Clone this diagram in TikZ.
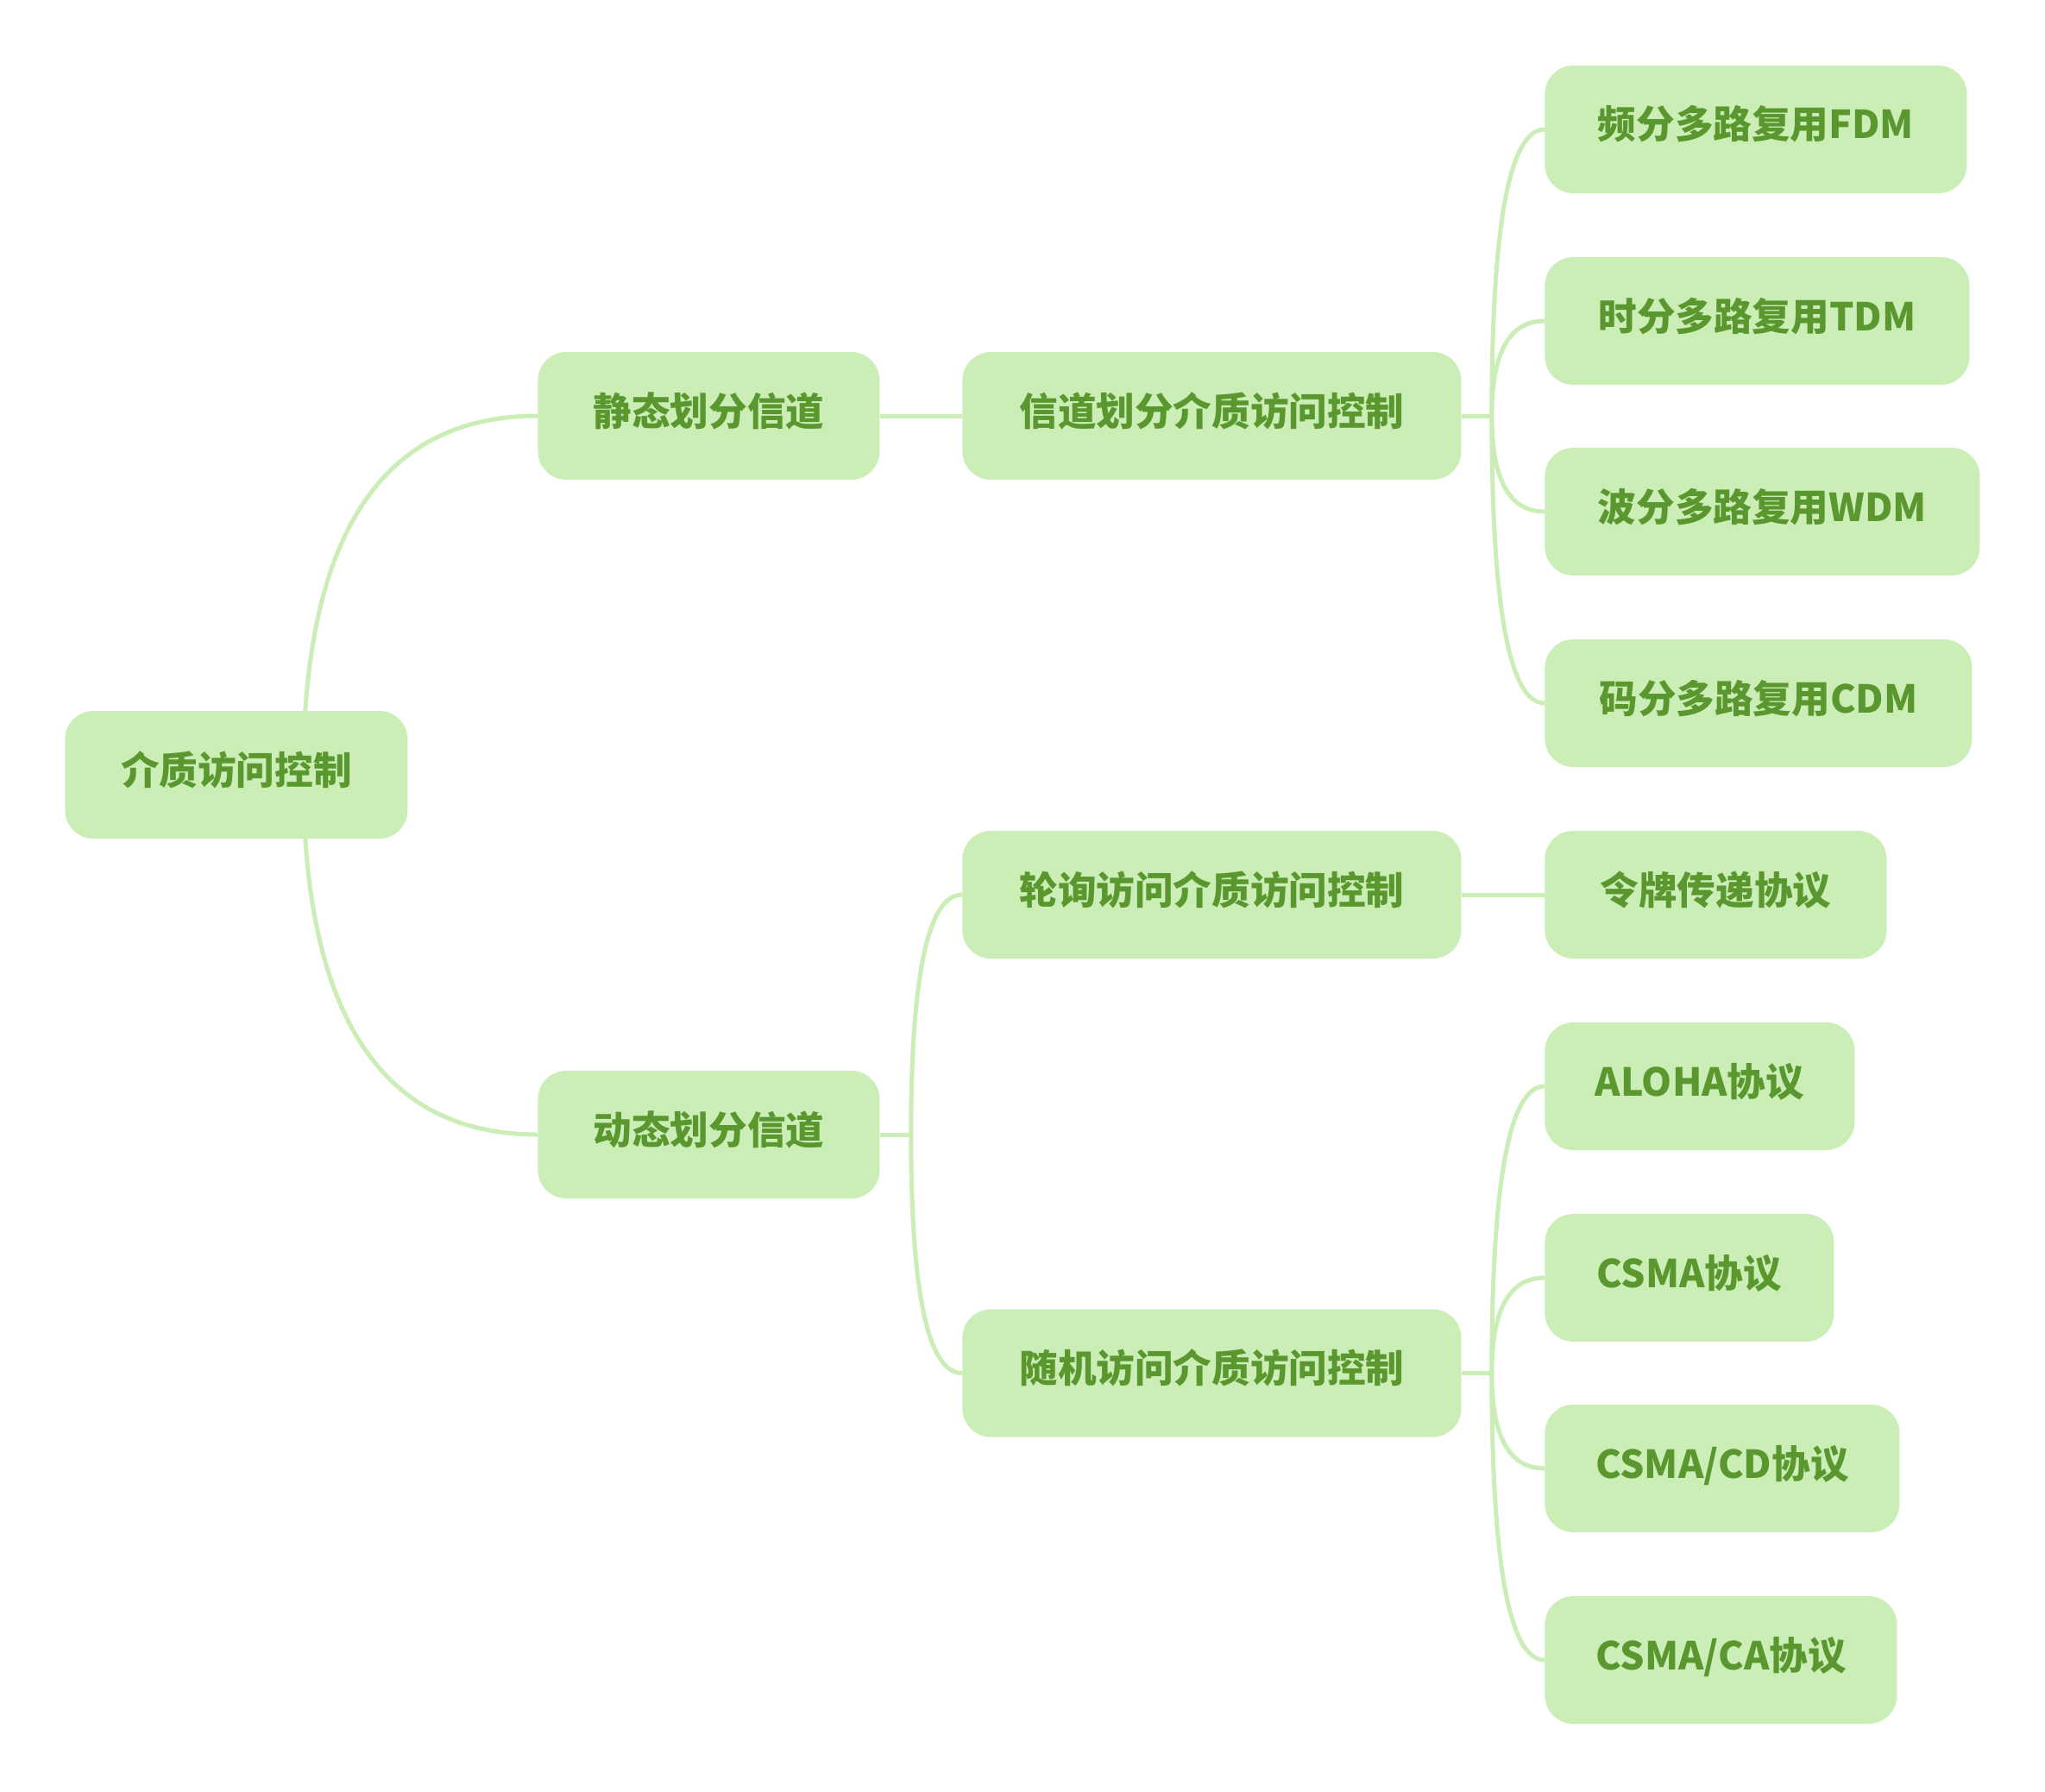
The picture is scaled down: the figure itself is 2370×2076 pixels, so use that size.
\documentclass[tikz,border=0pt]{standalone}
\usepackage{fontspec}
\newfontfamily\cjk{Noto Sans CJK SC}
\usetikzlibrary{calc,backgrounds}
\definecolor{boxfill}{HTML}{CBEDB6}
\definecolor{txtc}{HTML}{5A982F}
\definecolor{linec}{HTML}{CBEDB6}
\tikzset{
  topic/.style={fill=boxfill, rounded corners=16.5pt, minimum height=74pt, anchor=west,
    text=txtc, font=\cjk\bfseries\fontsize{22.3}{26}\selectfont, inner sep=0pt,
    text height=19pt, text depth=8pt},
  conn/.style={draw=linec, line width=2.5pt},
}
\begin{document}
\begin{tikzpicture}[x=0.5pt,y=-0.5pt]
\useasboundingbox (0,0) rectangle (2370,2076);
% nodes
\node[topic, minimum width=198.5pt] (root) at (75,898) {介质访问控制};
\node[topic, minimum width=198pt] (jing) at (623,482) {静态划分信道};
\node[topic, minimum width=198pt] (dong) at (623,1315) {动态划分信道};
\node[topic, minimum width=289pt] (xd) at (1115,482) {信道划分介质访问控制};
\node[topic, minimum width=289pt] (lx) at (1115,1037) {轮询访问介质访问控制};
\node[topic, minimum width=289pt] (sj) at (1115,1591.5) {随机访问介质访问控制};
\node[topic, minimum width=244.5pt] (fdm) at (1790,150) {频分多路复用FDM};
\node[topic, minimum width=246pt] (tdm) at (1790,372) {时分多路复用TDM};
\node[topic, minimum width=252pt] (wdm) at (1790,593) {波分多路复用WDM};
\node[topic, minimum width=247.5pt] (cdm) at (1790,815) {码分多路复用CDM};
\node[topic, minimum width=198pt] (lp) at (1790,1037) {令牌传递协议};
\node[topic, minimum width=179.5pt] (aloha) at (1790,1259) {ALOHA协议};
\node[topic, minimum width=167.5pt] (csma) at (1790,1481) {CSMA协议};
\node[topic, minimum width=205.5pt] (cd) at (1790,1702) {CSMA/CD协议};
\node[topic, minimum width=204pt] (ca) at (1790,1924) {CSMA/CA协议};
% connectors
\begin{scope}[on background layer]
\fill[white] (0,0) rectangle (2370,2076);
\coordinate (rs) at ($(root.center)+(77.5,0)$);
\foreach \c in {jing,dong}
  \draw[conn] (rs) .. controls ($(rs)!2/3!(rs |- \c.west)$) and ($(\c.west)!2/3!(rs |- \c.west)$) .. (\c.west);
\draw[conn] (jing.east) -- (xd.west);
\draw[conn] (lx.east) -- (lp.west);
\coordinate (f1) at ($(xd.east)+(35,0)$);
\draw[conn] (xd.east) -- (f1);
\foreach \c in {fdm,tdm,wdm,cdm}
  \draw[conn] (f1) .. controls ($(f1)!2/3!(f1 |- \c.west)$) and ($(\c.west)!2/3!(f1 |- \c.west)$) .. (\c.west);
\coordinate (f2) at ($(dong.east)+(36,0)$);
\draw[conn] (dong.east) -- (f2);
\foreach \c in {lx,sj}
  \draw[conn] (f2) .. controls ($(f2)!2/3!(f2 |- \c.west)$) and ($(\c.west)!2/3!(f2 |- \c.west)$) .. (\c.west);
\coordinate (f3) at ($(sj.east)+(35,0)$);
\draw[conn] (sj.east) -- (f3);
\foreach \c in {aloha,csma,cd,ca}
  \draw[conn] (f3) .. controls ($(f3)!2/3!(f3 |- \c.west)$) and ($(\c.west)!2/3!(f3 |- \c.west)$) .. (\c.west);
\end{scope}
\end{tikzpicture}
\end{document}
